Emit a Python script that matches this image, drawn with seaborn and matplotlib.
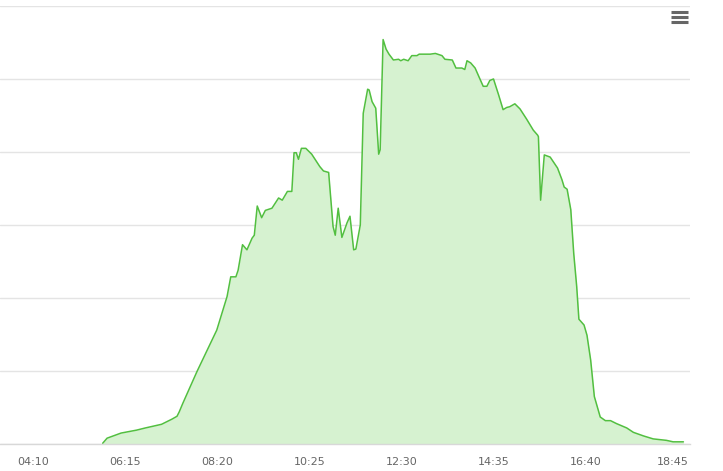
import numpy as np
import pandas as pd
import matplotlib
matplotlib.use("Agg")
import matplotlib.pyplot as plt
import matplotlib.transforms as mtransforms
from matplotlib.lines import Line2D
import seaborn as sns

# time of day in minutes, output in kW
minutes = [344, 350, 369, 390, 402, 424, 438, 445, 448, 453, 472, 499, 513, 518,
           525, 528, 534, 540, 547, 550, 554, 560, 565, 574, 583, 588, 595, 601,
           604, 607, 610, 614, 620, 628, 639, 644, 651, 657, 660, 664, 669, 676,
           680, 685, 688, 694, 698, 704, 706, 710, 715, 719, 721, 725, 729, 733,
           739, 746, 749, 753, 759, 764, 771, 774, 789, 796, 805, 809, 819, 824,
           832, 836, 839, 844, 850, 857, 861, 866, 870, 875, 882, 888, 893, 897,
           904, 911, 920, 929, 935, 936, 939, 944, 952, 962, 968, 971, 975, 980,
           984, 988, 991, 998, 1002, 1007, 1012, 1020, 1027, 1034, 1042, 1056,
           1065, 1079, 1092, 1110, 1119, 1133]
power = [0.01, 0.08, 0.15, 0.19, 0.22, 0.27, 0.34, 0.38, 0.44, 0.56, 0.99, 1.56,
         2.02, 2.29, 2.29, 2.38, 2.73, 2.66, 2.82, 2.86, 3.26, 3.10, 3.20, 3.23,
         3.37, 3.34, 3.46, 3.46, 3.99, 3.99, 3.90, 4.05, 4.05, 3.97, 3.80, 3.74,
         3.72, 2.98, 2.86, 3.23, 2.83, 3.03, 3.12, 2.66, 2.67, 3.00, 4.53, 4.86,
         4.85, 4.69, 4.60, 3.97, 4.03, 5.54, 5.41, 5.34, 5.26, 5.27, 5.25, 5.27,
         5.25, 5.32, 5.32, 5.34, 5.34, 5.35, 5.32, 5.27, 5.26, 5.15, 5.15, 5.13,
         5.25, 5.22, 5.15, 4.99, 4.90, 4.90, 4.98, 5.00, 4.78, 4.58, 4.61, 4.62,
         4.66, 4.59, 4.45, 4.30, 4.23, 4.21, 3.34, 3.96, 3.93, 3.78, 3.62, 3.52,
         3.49, 3.21, 2.61, 2.16, 1.71, 1.63, 1.49, 1.15, 0.65, 0.37, 0.32, 0.32,
         0.28, 0.22, 0.16, 0.11, 0.07, 0.05, 0.03, 0.03]

tick_minutes = [250, 375, 500, 625, 750, 875, 1000, 1125]
tick_labels = ["04:10", "06:15", "08:20", "10:25", "12:30", "14:35", "16:40", "18:45"]

df = pd.DataFrame({"minute": minutes, "power": power})

sns.set_theme(style="white")
plt.rcParams['font.family'] = ['DejaVu Sans']

fig = plt.figure(figsize=(7.23, 4.71), dpi=100)
ax = fig.add_axes([0, 0.0573, 0.9544, 0.93])

ax.fill_between(df["minute"], df["power"], 0, color="#d6f2d0", linewidth=0)
sns.lineplot(data=df, x="minute", y="power", ax=ax, color="#52bf40", linewidth=1.1)

ax.set_xlim(204.5, 1142)
ax.set_ylim(0, 6)
ax.set_yticks(np.arange(0, 7, 1))
ax.yaxis.grid(True, color="#e4e4e4", linewidth=1)
ax.set_axisbelow(True)
ax.set_yticklabels([])
ax.set_xticks(tick_minutes)
ax.set_xticklabels(tick_labels)
ax.tick_params(axis="x", length=0, pad=9, labelsize=8, labelcolor="#666666")
ax.tick_params(axis="y", length=0)
ax.set_xlabel("")
ax.set_ylabel("")
for side in ["left", "right", "top"]:
    ax.spines[side].set_visible(False)
ax.spines["bottom"].set_color("#d8d8d8")
ax.spines["bottom"].set_linewidth(1)

# last label is pushed left so it stays inside the plot, like the original
last = ax.get_xticklabels()[-1]
last.set_transform(last.get_transform() + mtransforms.ScaledTranslation(-5 / 100, 0, fig.dpi_scale_trans))

# hamburger menu icon, top right
for yy in [12, 17, 22]:
    fig.add_artist(Line2D([671 / 723, 688 / 723], [1 - yy / 471, 1 - yy / 471],
                          color="#666666", linewidth=2.2, solid_capstyle="butt"))

fig.savefig("out.png", dpi=100)
